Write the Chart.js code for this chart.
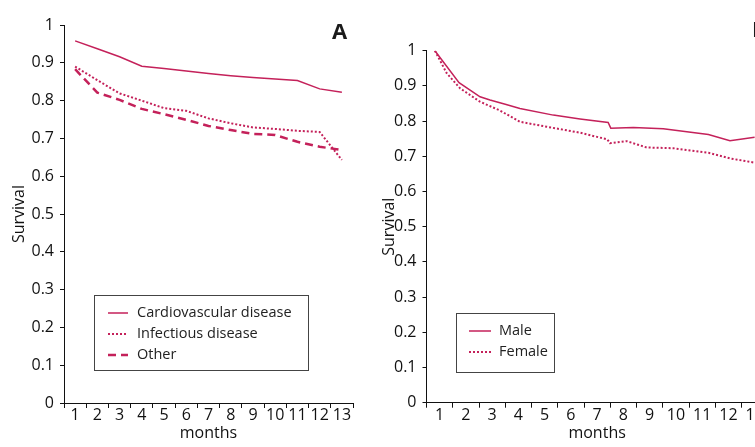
<!DOCTYPE html>
<html>
<head>
  <meta charset="UTF-8">
  <title>Survival by months</title>
  <script src="https://cdn.jsdelivr.net/npm/chart.js"></script>
  <style>
    body { margin: 0; width: 755px; height: 447px; overflow: hidden; position: relative; background: #fff;
           font-family: 'Open Sans', sans-serif; color: #1a1a1a; }
    canvas { position: absolute; top: 0; }
    #chartA { left: 0; }
    #chartB { left: 370px; }
    .letter { position: absolute; font-weight: bold; font-size: 22px; line-height: 22px; }
    .legend-box { position: absolute; border: 1px solid #444; box-sizing: border-box; }
    .legend-row { position: absolute; height: 20px; line-height: 20px; font-size: 14.5px; color: #222; white-space: nowrap; }
    .legend-row svg { position: absolute; top: 9px; }
  </style>
</head>
<body>
  <canvas id="chartA" width="370" height="447"></canvas>
  <canvas id="chartB" width="408" height="447"></canvas>
  <div class="letter" style="left:332px; top:19px;">A</div>
  <div class="letter" style="left:752px; top:17px;">B</div>
  <div class="legend-box" style="left:94px; top:295px; width:215px; height:76px;"></div>
  <div class="legend-box" style="left:456px; top:313px; width:99px; height:60px;"></div>

  <script>
    // tick labels
    const monthLabels = ['1', '2', '3', '4', '5', '6', '7', '8', '9', '10', '11', '12', '13'];
    const months = [1, 2, 3, 4, 5, 6, 7, 8, 9, 10, 11, 12, 13];

    // panel A: cause of death
    const causeNames = ['Cardiovascular disease', 'Infectious disease', 'Other'];
    const cardiovascular = [0.958, 0.937, 0.916, 0.891, 0.885, 0.878, 0.872, 0.866, 0.861, 0.857, 0.853, 0.831, 0.822];
    const infectious = [0.890, 0.854, 0.819, 0.800, 0.780, 0.773, 0.753, 0.740, 0.729, 0.725, 0.720, 0.717, 0.643];
    const other = [0.883, 0.821, 0.802, 0.778, 0.764, 0.749, 0.733, 0.722, 0.712, 0.709, 0.691, 0.678, 0.669];

    // panel B: sex (months read off the curve, not only whole months)
    const sexNames = ['Male', 'Female'];
    const maleMonths = [0.82, 1.74, 2.54, 2.92, 3.5, 4.06, 5.33, 6.35, 7.42, 7.52, 8.38, 9.52, 11.24, 12.06, 13.0];
    const maleSurvival = [1.0, 0.909, 0.869, 0.860, 0.848, 0.836, 0.817, 0.806, 0.796, 0.780, 0.782, 0.778, 0.762, 0.744, 0.754];
    const femaleMonths = [0.82, 1.27, 1.78, 2.54, 3.3, 4.06, 5.08, 6.35, 7.39, 7.49, 8.13, 8.89, 9.9, 11.24, 12.06, 13.0];
    const femaleSurvival = [1.0, 0.936, 0.893, 0.855, 0.830, 0.798, 0.784, 0.767, 0.748, 0.737, 0.743, 0.725, 0.723, 0.710, 0.694, 0.682];

    const red = '#c4215a';
    const axisColor = '#111';
    const solid = { borderDash: [], borderWidth: 1.5, svgDash: '', svgWidth: 1.5 };
    const dotted = { borderDash: [2, 2], borderWidth: 2, svgDash: '2 2', svgWidth: 2 };
    const dashed = { borderDash: [8, 5], borderWidth: 2.5, svgDash: '8 5', svgWidth: 2.5 };

    Chart.defaults.font.family = "'Open Sans', sans-serif";
    Chart.defaults.font.size = 16;
    Chart.defaults.color = '#111';

    function pairs(xs, ys) {
      return xs.map((x, i) => ({ x: x, y: ys[i] }));
    }

    function lineSet(label, data, style) {
      return {
        label: label, data: data, borderColor: red, borderWidth: style.borderWidth,
        borderDash: style.borderDash, pointRadius: 0, tension: 0, fill: false
      };
    }

    function makeChart(id, datasets, yWidth, xHeight, pad) {
      return new Chart(document.getElementById(id), {
        type: 'line',
        data: { datasets: datasets },
        options: {
          responsive: false,
          animation: false,
          layout: { padding: pad },
          plugins: { legend: { display: false }, tooltip: { enabled: false } },
          scales: {
            x: {
              type: 'linear', min: 0.5, max: 13.5,
              afterFit: s => { s.height = xHeight; },
              border: { color: axisColor, width: 1 },
              grid: {
                drawOnChartArea: false, tickLength: 5, lineWidth: 1,
                color: c => (c.tick && Number.isInteger(c.tick.value)) ? 'rgba(0,0,0,0)' : axisColor
              },
              ticks: {
                stepSize: 0.5, autoSkip: false, maxRotation: 0, padding: -2,
                callback: v => Number.isInteger(v) ? monthLabels[v - 1] : ''
              },
              title: { display: true, text: 'months', padding: { top: 0, bottom: 4 } }
            },
            y: {
              min: 0, max: 1,
              afterFit: s => { s.width = yWidth; },
              border: { color: axisColor, width: 1 },
              grid: { drawOnChartArea: false, tickLength: 4, color: axisColor },
              ticks: { stepSize: 0.1, padding: 6, callback: v => String(Math.round(v * 10) / 10) },
              title: { display: true, text: 'Survival', padding: { top: 10, bottom: 0 } }
            }
          }
        }
      });
    }

    makeChart('chartA', [
      lineSet(causeNames[0], pairs(months, cardiovascular), solid),
      lineSet(causeNames[1], pairs(months, infectious), dotted),
      lineSet(causeNames[2], pairs(months, other), dashed)
    ], 64, 44, { top: 25, right: 17, left: 0, bottom: 0 });

    makeChart('chartB', [
      lineSet(sexNames[0], pairs(maleMonths, maleSurvival), solid),
      lineSet(sexNames[1], pairs(femaleMonths, femaleSurvival), dotted)
    ], 56.5, 44.3, { top: 50.7, right: 10.25, left: 0, bottom: 0 });

    // legends drawn as html boxes
    function legendRow(name, style, top, sampleLeft, sampleWidth, textLeft) {
      const row = document.createElement('div');
      row.className = 'legend-row';
      row.style.top = top + 'px';
      row.style.left = sampleLeft + 'px';
      row.innerHTML =
        '<svg width="' + sampleWidth + '" height="4" style="left:0">' +
        '<line x1="0" y1="2" x2="' + sampleWidth + '" y2="2" stroke="' + red + '" stroke-width="' + style.svgWidth +
        '" stroke-dasharray="' + style.svgDash + '"/></svg>' +
        '<span style="position:absolute; left:' + (textLeft - sampleLeft) + 'px">' + name + '</span>';
      document.body.appendChild(row);
    }
    const causeStyles = [solid, dotted, dashed];
    const causeRowTops = [302, 322.7, 343.6];
    causeNames.forEach((n, i) => legendRow(n, causeStyles[i], causeRowTops[i], 108, 20, 137));
    const sexStyles = [solid, dotted];
    const sexRowTops = [320.4, 341.1];
    sexNames.forEach((n, i) => legendRow(n, sexStyles[i], sexRowTops[i], 469, 22, 499));
  </script>
</body>
</html>
